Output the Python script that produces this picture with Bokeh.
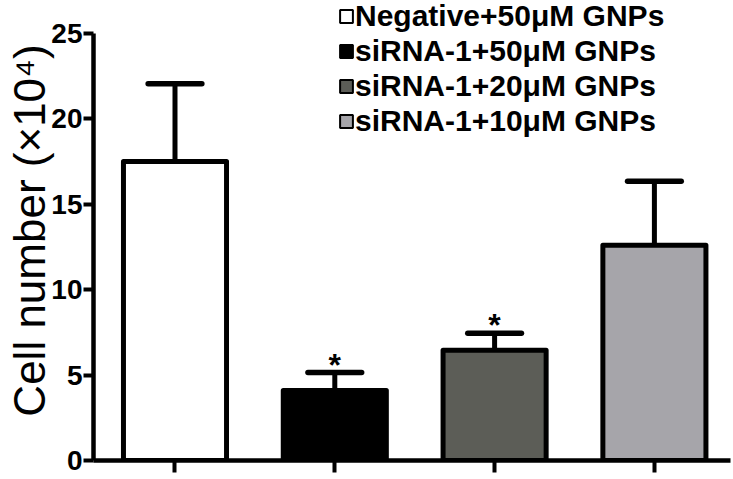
from bokeh.plotting import figure
from bokeh.models import FixedTicker, Legend, LegendItem, ColumnDataSource, Range1d
from bokeh.core.properties import value
from bokeh.embed import file_html
from bokeh.resources import INLINE

# ---- data ----
groups = ["Negative+50μM GNPs", "siRNA-1+50μM GNPs", "siRNA-1+20μM GNPs", "siRNA-1+10μM GNPs"]
means = [17.5, 4.1, 6.45, 12.6]
error_tops = [22.05, 5.15, 7.45, 16.35]
colors = ["#ffffff", "#000000", "#5c5d57", "#a6a5aa"]
stars = ["", "*", "*", ""]
y_ticks = [0, 5, 10, 15, 20, 25]
x_pos = [0, 1, 2, 3]

FONT = "Liberation Sans"

X0, X1 = -0.51, 3.495
p = figure(width=733, height=479, output_backend="svg", toolbar_location=None,
           x_range=Range1d(X0, X1), y_range=Range1d(0, 26.93),
           min_border_left=93, min_border_right=0, min_border_top=0, min_border_bottom=19)
p.outline_line_color = None
p.xgrid.visible = False
p.ygrid.visible = False
p.background_fill_color = "white"
p.border_fill_color = "white"

src = ColumnDataSource(dict(x=x_pos, top=means, color=colors, etop=error_tops,
                            x0=[x - 0.168 for x in x_pos], x1=[x + 0.168 for x in x_pos],
                            star=stars))

# error bars (drawn first, bars on top)
p.segment(x0="x", y0="top", x1="x", y1="etop", source=src, line_color="black", line_width=5)
p.segment(x0="x0", y0="etop", x1="x1", y1="etop", source=src, line_color="black",
          line_width=5.5, line_cap="round")
p.vbar(x="x", top="top", bottom=0, width=0.645, source=src, fill_color="color",
       line_color="black", line_width=5, line_join="round")

p.text(x="x", y="etop", text="star", source=src, text_font=value(FONT), text_font_size="32px",
       text_font_style="bold", text_align="center", text_baseline="alphabetic", y_offset=-8,
       text_color="black")

# legend swatches (renderers with no drawable data)
nan = float("nan")
items = []
for g, c in zip(groups, colors):
    r = p.vbar(x=[nan], top=[nan], width=0.5, fill_color=c, line_color="black", line_width=2)
    items.append(LegendItem(label=g, renderers=[r]))
legend = Legend(items=items, location=(245, 322))
legend.label_text_font = FONT
legend.label_text_font_size = "30px"
legend.label_text_font_style = "bold"
legend.label_text_color = "black"
legend.glyph_width = 16
legend.glyph_height = 16
legend.label_height = 35
legend.spacing = 0
legend.padding = 0
legend.margin = 0
legend.label_standoff = 1
legend.border_line_color = None
legend.background_fill_alpha = 0
p.add_layout(legend)

# y axis
ya = p.yaxis[0]
ya.ticker = FixedTicker(ticks=y_ticks)
ya.bounds = (0, 25)
ya.axis_line_width = 4.5
ya.axis_line_color = "black"
ya.major_tick_line_width = 4
ya.major_tick_out = 10
ya.major_tick_in = 0
ya.minor_tick_line_color = None
ya.major_label_text_font = FONT
ya.major_label_text_font_size = "28px"
ya.major_label_text_font_style = "bold"
ya.major_label_text_color = "black"
ya.major_label_standoff = 1
ya.axis_label = "Cell number (×10⁴)"
ya.axis_label_text_font = FONT
ya.axis_label_text_font_size = "44px"
ya.axis_label_text_font_style = "normal"
ya.axis_label_text_color = "black"
ya.axis_label_standoff = -6

# x axis
xa = p.xaxis[0]
xa.ticker = FixedTicker(ticks=x_pos)
xa.bounds = (X0, 3.476)
xa.axis_line_width = 4.5
xa.axis_line_color = "black"
xa.major_tick_line_width = 4
xa.major_tick_out = 12
xa.major_tick_in = 0
xa.minor_tick_line_color = None
xa.major_label_overrides = {0: "", 1: "", 2: "", 3: ""}
xa.major_label_text_font_size = "0px"
xa.major_label_standoff = 0

open("out.html", "w").write(file_html(p, INLINE))
